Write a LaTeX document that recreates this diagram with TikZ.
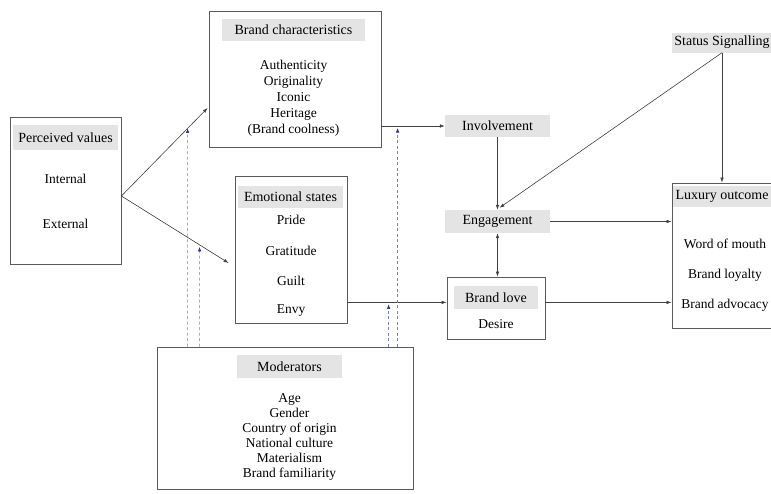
\documentclass[tikz,border=0pt]{standalone}
\usepackage{fontspec}
\setmainfont{Liberation Serif}
\usetikzlibrary{arrows.meta,calc}
\definecolor{boxline}{HTML}{5A5A5A}
\definecolor{hdrfill}{HTML}{E4E4E4}
\definecolor{dashcol}{HTML}{7A7AD0}
\definecolor{dashtip}{HTML}{303080}
\begin{document}
\begin{tikzpicture}[x=1pt,y=-1pt,
  box/.style={draw=boxline, line width=0.8pt, inner sep=0pt},
  hdr/.style={fill=hdrfill, inner sep=0pt, font=\fontsize{14}{16}\selectfont},
  itm/.style={inner sep=0pt, font=\fontsize{13.5}{15.5}\selectfont, align=center},
  arr/.style={draw=black!75, line width=0.6pt, -{Latex[length=5pt,width=3.5pt]}},
  biarr/.style={draw=black!75, line width=0.6pt, {Latex[length=5pt,width=3.5pt]}-{Latex[length=5pt,width=3.5pt]}},
  darr/.style={draw=dashcol, line width=0.6pt, dash pattern=on 3pt off 2.5pt, -{Latex[length=4.5pt,width=3.5pt,color=dashtip]}}
]
\clip (0,0) rectangle (771,493);
\fill[white] (0,0) rectangle (771,493);

% Perceived values
\node[box, minimum width=111, minimum height=147] (pv) at (65.5,190.5) {};
\node[hdr, minimum width=105, minimum height=25] (pvh) at (65.5,137.5) {Perceived values};
\node[itm] (pv1) at (65.5,179) {Internal};
\node[itm] (pv2) at (65.5,224) {External};

% Brand characteristics
\node[box, minimum width=172, minimum height=136] (bc) at (295,79) {};
\node[hdr, minimum width=143, minimum height=22] (bch) at (293.5,30) {Brand characteristics};
\node[itm, font=\fontsize{13.5}{16}\selectfont] (bci) at (293.5,98) {Authenticity\\Originality\\Iconic\\Heritage\\(Brand coolness)};

% Emotional states
\node[box, minimum width=112, minimum height=147] (es) at (291,249.5) {};
\node[hdr, minimum width=105, minimum height=22] (esh) at (290.5,197) {Emotional states};
\node[itm] (es1) at (291,220) {Pride};
\node[itm] (es2) at (291,251) {Gratitude};
\node[itm] (es3) at (291,281) {Guilt};
\node[itm] (es4) at (291,311) {Envy};

% Moderators
\node[box, minimum width=256, minimum height=142] (mod) at (285,418) {};
\node[hdr, minimum width=105, minimum height=23] (modh) at (289.5,366.5) {Moderators};
\node[itm, font=\fontsize{13.5}{15}\selectfont] (modi) at (289.5,436.5) {Age\\Gender\\Country of origin\\National culture\\Materialism\\Brand familiarity};

% Involvement, Engagement
\node[hdr, minimum width=105, minimum height=22] (inv) at (497.5,126) {Involvement};
\node[hdr, minimum width=105, minimum height=23] (eng) at (497.5,221.5) {Engagement};

% Brand love
\node[box, minimum width=98, minimum height=62] (bl) at (496,308) {};
\node[hdr, minimum width=84, minimum height=23] (blh) at (496,297.5) {Brand love};
\node[itm] (bl1) at (496,324) {Desire};

% Luxury outcome
\node[box, minimum width=104, minimum height=145] (lo) at (724,255.5) {};
\node[hdr, minimum width=98, minimum height=21] (loh) at (722,196) {Luxury outcome};
\node[itm] (lo1) at (725,244) {Word of mouth};
\node[itm] (lo2) at (725,275) {Brand loyalty};
\node[itm] (lo3) at (725,305) {Brand advocacy};

% Status signalling
\node[hdr, minimum width=100, minimum height=20] (ss) at (722,42.5) {Status Signalling};

% Connectors
\coordinate (pvout) at ($(pv.east)+(0,5.5)$);
\coordinate (bcin) at ($(bc.west)+(-1,29)$);
\coordinate (esin) at ($(es.west)+(-6,13.5)$);
\coordinate (esout) at ($(es.south east)+(0,-21)$);
\draw[arr] (pvout) -- (bcin);
\draw[arr] (pvout) -- (esin);
\draw[arr] (bc.east |- inv.west) -- (inv.west);
\draw[arr] (inv.south) -- (eng.north);
\draw[arr] (ss.south) -- ($(eng.north)+(2,-2)$);
\draw[arr] (ss.south) -- (ss.south |- lo.north);
\draw[arr] (eng.east) -- (eng.east -| lo.west);
\draw[biarr] (eng.south) -- (eng.south |- bl.north);
\draw[arr] (esout) -- (esout -| bl.west);
\draw[arr] (esout -| bl.east) -- (esout -| lo.west);

% Moderating (dashed) connectors
\coordinate (m1) at ($(mod.north west)+(31,0)$);
\coordinate (m2) at ($(mod.north west)+(43,0)$);
\coordinate (m3) at ($(mod.north west)+(232,0)$);
\coordinate (m4) at ($(mod.north west)+(241,0)$);
\draw[darr] (m1) -- (intersection of m1--{$(m1)+(0,-10)$} and pvout--bcin);
\draw[darr] (m2) -- ($(intersection of m2--{$(m2)+(0,-10)$} and pvout--esin)+(0,2)$);
\draw[darr] (m3) -- ($(m3 |- esout)+(0,2)$);
\draw[darr] (m4) -- ($(m4 |- inv.west)+(0,2)$);
\end{tikzpicture}
\end{document}
